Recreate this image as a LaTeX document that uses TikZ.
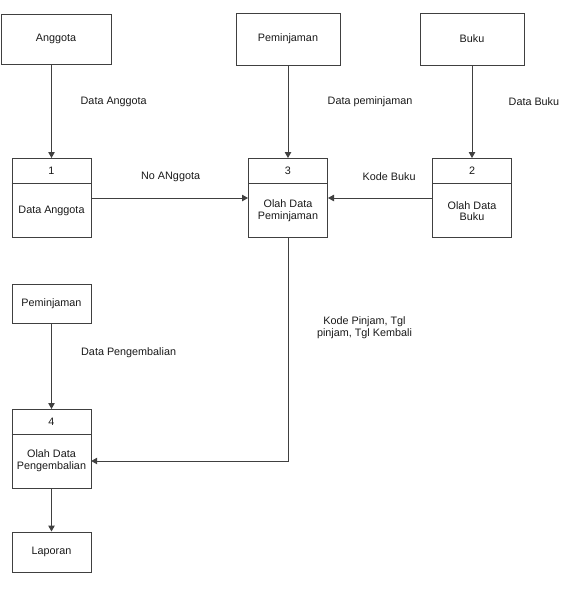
\documentclass[tikz,border=0pt]{standalone}
\usepackage{fontspec}
\setmainfont{Liberation Sans}
\usetikzlibrary{arrows.meta}
\tikzset{
  every node/.style={font=\fontsize{10.8}{11.6}\selectfont, text=black!90},
  entity/.style={draw=black!75, line width=1pt, minimum width=79pt, minimum height=39pt, inner sep=0pt},
  proc/.style={draw=black!75, line width=1pt, minimum width=79pt, minimum height=79pt, inner sep=0pt},
  body/.style={minimum width=79pt, minimum height=54pt, inner sep=0pt, align=center},
  lbl/.style={inner sep=0pt, align=center},
  flow/.style={draw=black!75, line width=1pt, -{Triangle[length=6pt,width=6.5pt]}}
}
\begin{document}
\begin{tikzpicture}[x=1pt, y=-1pt]
    \useasboundingbox (0,0) rectangle (567,600);

    % External entities
    \node[entity, minimum width=110pt, minimum height=50pt] (anggota) at (56,39) {Anggota};
    \node[entity, minimum width=104pt, minimum height=52pt] (pinjam) at (288,39) {Peminjaman};
    \node[entity, minimum width=104pt, minimum height=52pt] (buku) at (472,39) {Buku};
    \node[entity] (pinjam2) at (51.5,303.5) {Peminjaman};
    \node[entity, minimum height=40pt] (laporan) at (51.5,552) {Laporan};

    % Processes
    \node[proc] (p1) at (51.5,198) {};
    \node (p1num) at (51.5,171) {1};
    \node[body] (p1body) at (51.5,211) {Data Anggota};
    \draw[draw=black!75, line width=1pt] ([yshift=-25pt]p1.north west) -- ([yshift=-25pt]p1.north east);

    \node[proc] (p3) at (288,198) {};
    \node (p3num) at (288,171) {3};
    \node[body] (p3body) at (288,211) {Olah Data\\Peminjaman};
    \draw[draw=black!75, line width=1pt] ([yshift=-25pt]p3.north west) -- ([yshift=-25pt]p3.north east);

    \node[proc] (p2) at (472,198) {};
    \node (p2num) at (472,171) {2};
    \node[body] (p2body) at (472,211) {Olah Data\\Buku};
    \draw[draw=black!75, line width=1pt] ([yshift=-25pt]p2.north west) -- ([yshift=-25pt]p2.north east);

    \node[proc] (p4) at (51.5,449) {};
    \node (p4num) at (51.5,422) {4};
    \node[body] (p4body) at (51.5,461) {Olah Data\\Pengembalian};
    \draw[draw=black!75, line width=1pt] ([yshift=-25pt]p4.north west) -- ([yshift=-25pt]p4.north east);

    % Data flows
    \draw[flow] (anggota.south -| p1.north) -- (p1.north);
    \draw[flow] (pinjam.south) -- (p3.north);
    \draw[flow] (buku.south) -- (p2.north);
    \draw[flow] (p1.east) -- (p3.west);
    \draw[flow] (p2.west) -- (p3.east);
    \draw[flow] (p3.south) |- (p4body.east);
    \draw[flow] (pinjam2.south) -- (p4.north);
    \draw[flow] (p4.south) -- (laporan.north);

    % Flow labels
    \node[lbl, anchor=west] (langgota) at (80.5,101.5) {Data Anggota};
    \node[lbl, anchor=west] (lpinjam) at (327.5,101.5) {Data peminjaman};
    \node[lbl, anchor=west] (lbuku) at (508.5,101.5) {Data Buku};
    \node[lbl, anchor=west] (lnoang) at (141,176.5) {No ANggota};
    \node[lbl, anchor=west] (lkode) at (362.5,176.5) {Kode Buku};
    \node[lbl] (lkembali) at (364.5,327.5) {Kode Pinjam, Tgl\\pinjam, Tgl Kembali};
    \node[lbl, anchor=west] (lkembali2) at (81,352.5) {Data Pengembalian};
\end{tikzpicture}
\end{document}
